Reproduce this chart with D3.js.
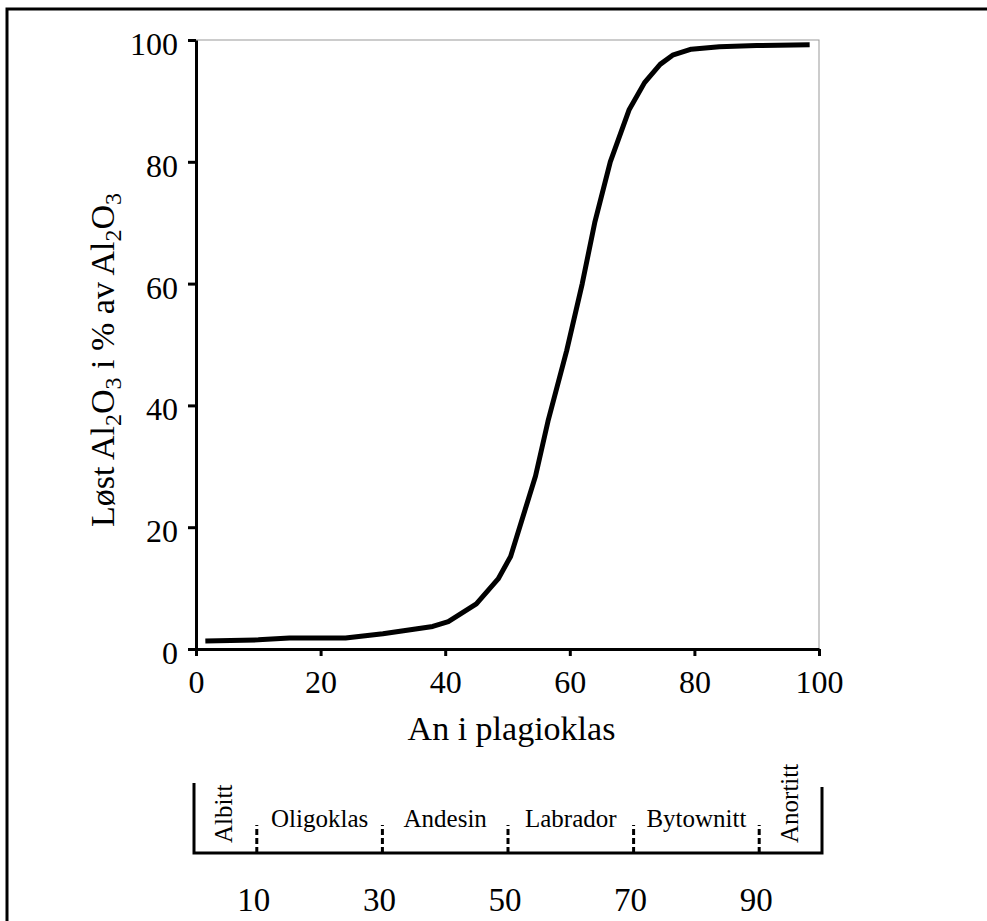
<!DOCTYPE html>
<html>
<head>
<meta charset="utf-8">
<script src="https://cdn.jsdelivr.net/npm/d3@7"></script>
<style>
  body { margin: 0; background: #fff; }
  text { font-family: "Liberation Serif", "Times New Roman", serif; fill: #000; }
</style>
</head>
<body>
<div id="chart"></div>
<script>
// data
var anContent = [1.5, 10, 15, 24, 30, 38, 40.5, 45, 48.5, 50.5, 54.5, 56.5, 59.5, 62, 64, 66.5, 69.5, 72, 74.5, 76.5, 79.5, 84, 90, 98.5];
var dissolved = [1.3, 1.5, 1.8, 1.8, 2.5, 3.7, 4.5, 7.4, 11.5, 15.2, 28.4, 37.4, 49, 60, 70, 80, 88.5, 93, 96, 97.5, 98.5, 98.9, 99.1, 99.2];
var xTicks = [0, 20, 40, 60, 80, 100];
var yTicks = [0, 20, 40, 60, 80, 100];
var mineralNames = ["Albitt", "Oligoklas", "Andesin", "Labrador", "Bytownitt", "Anortitt"];
var mineralMid = [5, 20, 40, 60, 80, 95];
var mineralBounds = [10, 30, 50, 70, 90];

var width = 987;
var height = 921;

var svg = d3.select("#chart")
  .append("svg")
  .attr("width", width)
  .attr("height", height);

// outer frame (top and left edge of the scanned page)
svg.append("path")
  .attr("d", "M7," + (height + 5) + "V9H" + (width + 5))
  .attr("fill", "none")
  .attr("stroke", "#000")
  .attr("stroke-width", 3);

var x = d3.scaleLinear().domain([0, 100]).range([196, 819]);
var y = d3.scaleLinear().domain([0, 100]).range([649, 40]);

// thin plot frame
svg.append("rect")
  .attr("x", x(0))
  .attr("y", y(100))
  .attr("width", x(100) - x(0))
  .attr("height", y(0) - y(100))
  .attr("fill", "none")
  .attr("stroke", "#999")
  .attr("stroke-width", 1);

var xAxis = svg.append("g")
  .attr("transform", "translate(0," + y(0) + ")")
  .call(d3.axisBottom(x).tickValues(xTicks).tickSize(7).tickSizeOuter(0).tickPadding(14));

var yAxis = svg.append("g")
  .attr("transform", "translate(" + x(0) + ",0)")
  .call(d3.axisLeft(y).tickValues(yTicks).tickSize(8).tickSizeOuter(0).tickPadding(10));

[xAxis, yAxis].forEach(function(a) {
  a.select(".domain").attr("stroke", "#000").attr("stroke-width", 3);
  a.selectAll(".tick line").attr("stroke", "#000").attr("stroke-width", 3);
  a.selectAll(".tick text")
    .attr("font-family", "Liberation Serif, Times New Roman, serif")
    .attr("font-size", "32px")
    .attr("fill", "#000");
});
yAxis.selectAll(".tick text").attr("dy", "0.45em");

var pts = anContent.map(function(d, i) { return [d, dissolved[i]]; });

var line = d3.line()
  .x(function(d) { return x(d[0]); })
  .y(function(d) { return y(d[1]); });

svg.append("path")
  .datum(pts)
  .attr("d", line)
  .attr("fill", "none")
  .attr("stroke", "#000")
  .attr("stroke-width", 5)
  .attr("stroke-linejoin", "round");

// axis titles
svg.append("text")
  .attr("x", (x(0) + x(100)) / 2 + 4)
  .attr("y", 740)
  .attr("text-anchor", "middle")
  .attr("font-size", "34px")
  .text("An i plagioklas");

var yTitle = svg.append("text")
  .attr("transform", "translate(114,360) rotate(-90)")
  .attr("text-anchor", "middle")
  .attr("font-size", "34px");
yTitle.append("tspan").text("Løst Al");
yTitle.append("tspan").attr("font-size", "24px").attr("dy", 7).text("2");
yTitle.append("tspan").attr("dy", -7).text("O");
yTitle.append("tspan").attr("font-size", "24px").attr("dy", 7).text("3");
yTitle.append("tspan").attr("dy", -7).text(" i % av Al");
yTitle.append("tspan").attr("font-size", "24px").attr("dy", 7).text("2");
yTitle.append("tspan").attr("dy", -7).text("O");
yTitle.append("tspan").attr("font-size", "24px").attr("dy", 7).text("3");

// plagioclase series scale
var xb = d3.scaleLinear().domain([0, 100]).range([194, 822]);
var baseY = 853;

var scaleG = svg.append("g");

scaleG.append("path")
  .attr("d", "M" + xb(0) + "," + (baseY - 70) + "V" + baseY + "H" + xb(100) + "V" + (baseY - 66))
  .attr("fill", "none")
  .attr("stroke", "#000")
  .attr("stroke-width", 3);

scaleG.selectAll(".bound")
  .data(mineralBounds)
  .enter()
  .append("line")
  .attr("class", "bound")
  .attr("x1", function(d) { return xb(d); })
  .attr("x2", function(d) { return xb(d); })
  .attr("y1", baseY)
  .attr("y2", baseY - 28)
  .attr("stroke", "#000")
  .attr("stroke-width", 3)
  .attr("stroke-dasharray", "6,3");

scaleG.selectAll(".boundLabel")
  .data(mineralBounds)
  .enter()
  .append("text")
  .attr("class", "boundLabel")
  .attr("x", function(d) { return xb(d) - 3; })
  .attr("y", 911)
  .attr("text-anchor", "middle")
  .attr("font-size", "33px")
  .text(function(d) { return d; });

scaleG.selectAll(".mineral")
  .data(mineralNames)
  .enter()
  .append("text")
  .attr("class", "mineral")
  .attr("font-size", "25px")
  .attr("text-anchor", function(d, i) { return (i == 0 || i == mineralNames.length - 1) ? "start" : "middle"; })
  .attr("transform", function(d, i) {
    if (i == 0 || i == mineralNames.length - 1) {
      return "translate(" + (xb(mineralMid[i]) + 7) + ",843) rotate(-90)";
    }
    return "translate(" + xb(mineralMid[i]) + ",827)";
  })
  .text(function(d) { return d; });
</script>
</body>
</html>
